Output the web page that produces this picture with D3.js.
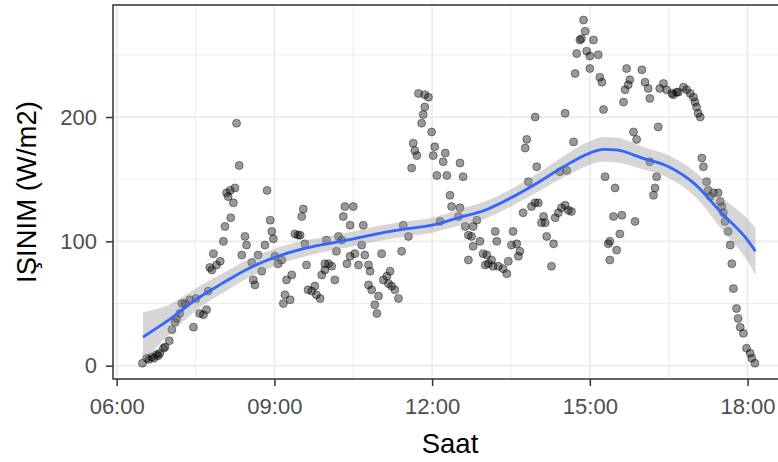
<!DOCTYPE html>
<html>
<head>
<meta charset="utf-8">
<script src="https://cdn.jsdelivr.net/npm/d3@7"></script>
<style>
  html, body { margin: 0; padding: 0; background: #fff; }
  svg { display: block; }
  text { font-family: "Liberation Sans", Arial, sans-serif; }
</style>
</head>
<body>
<svg id="chart" width="778" height="462"></svg>
<script>
// ---- Data (time as decimal hours, irradiance in W/m2) ----
const hours = [
  6.49,6.57,6.61,6.67,6.71,6.76,6.79,6.82,6.89,6.92,7.00,7.05,7.11,7.14,7.20,7.24,7.46,7.30,7.39,7.51,
  7.58,7.65,7.71,7.74,7.81,7.84,7.90,7.97,7.77,8.03,8.06,8.12,8.09,8.16,8.22,8.25,8.17,8.33,8.28,8.38,
  8.44,8.47,8.57,8.60,8.63,8.69,8.76,8.82,8.86,8.92,8.95,8.98,9.01,9.07,9.14,9.17,9.20,9.30,9.23,9.33,
  9.39,9.45,9.52,9.55,9.61,9.64,9.71,9.77,9.80,9.87,9.90,9.96,9.99,9.49,9.58,9.96,10.03,10.09,10.15,10.18,
  10.22,10.28,10.31,10.34,10.44,10.50,10.38,10.44,10.53,10.60,10.66,10.69,10.72,10.79,10.82,10.79,10.85,10.91,10.95,10.98,
  11.04,11.07,11.14,11.17,11.20,11.23,11.29,11.36,11.42,11.45,11.55,11.61,11.64,11.67,11.71,11.74,11.86,11.93,11.86,11.83,
  11.80,11.99,12.05,12.02,12.25,12.21,12.09,12.28,12.34,12.37,12.53,12.59,12.53,12.50,12.15,12.63,12.69,12.78,12.85,12.75,
  12.78,12.91,12.69,12.97,13.04,13.07,13.01,13.13,13.20,13.23,13.16,13.26,13.35,13.42,13.45,13.54,13.51,13.61,13.67,13.64,
  13.73,13.83,13.80,13.77,13.89,13.96,14.02,13.99,13.96,14.12,14.15,14.08,14.18,14.31,14.27,14.34,14.40,14.46,14.53,14.59,
  14.65,14.53,14.69,14.88,14.91,14.81,14.84,15.07,14.75,14.94,15.00,15.16,14.72,15.00,15.19,15.23,15.26,14.56,14.43,15.29,
  15.48,15.45,15.61,15.86,15.57,15.38,15.35,15.51,15.38,15.70,15.99,15.76,15.73,15.67,15.64,16.05,16.11,16.14,16.33,16.40,
  16.46,16.56,16.65,15.83,15.89,16.30,16.14,16.27,16.24,16.21,16.59,16.68,16.78,16.84,16.91,16.97,17.00,17.03,17.06,17.10,
  17.13,17.16,17.22,17.25,17.35,17.44,17.29,17.48,17.51,17.54,17.57,17.63,17.67,17.70,17.73,17.79,17.82,17.86,17.92,17.98,
  18.05,18.08,18.14
];
const irradiance = [
  2,6,5,7,6,9,8,10,14,15,20,29,35,38,42,50,31,50,53,54,
  42,41,45,60,77,90,81,84,79,100,112,136,139,141,131,143,119,161,195,89,
  104,97,83,69,65,89,76,97,141,117,108,102,88,82,85,50,57,53,69,73,
  106,105,120,126,81,61,60,64,57,54,73,82,101,105,98,77,82,80,69,92,
  104,101,120,128,113,128,82,88,90,81,97,113,89,81,76,65,61,49,42,56,
  90,69,72,66,76,64,61,54,92,113,104,159,179,173,169,219,218,216,208,202,
  195,188,176,169,171,164,153,153,137,128,163,152,127,120,116,112,105,112,117,104,
  96,100,85,90,89,82,81,85,108,100,80,80,78,74,84,108,97,98,92,88,
  123,148,182,175,128,131,131,160,200,120,115,115,104,98,80,119,123,127,129,125,
  124,203,180,278,269,262,263,262,251,253,249,250,235,239,232,228,206,157,156,152,
  143,120,121,116,106,100,98,93,85,239,238,230,226,222,212,228,223,215,223,227,
  222,219,220,188,182,192,164,152,143,137,218,220,224,222,219,216,212,208,203,200,
  167,160,148,141,139,139,136,132,128,123,116,108,97,82,62,46,38,31,26,14,
  10,6,2
];

// loess fit (fit and half-width of the confidence band)
const smoothHours = [6.5, 7.0, 7.5, 8.0, 8.5, 9.0, 9.5, 10.0, 10.5, 11.0, 11.5, 12.0, 12.5, 13.0, 13.5, 14.0, 14.5, 15.0, 15.25, 15.5, 16.0, 16.5, 17.0, 17.5, 18.0, 18.15];
const smoothFit   = [23, 37, 53, 66, 78, 87, 93.5, 98, 102, 106.5, 110, 113, 119, 125, 135, 147, 160, 171, 174, 173.5, 167, 160, 146, 123, 101, 92];
const smoothSE    = [20, 12, 9, 8, 7.5, 7, 6.5, 6, 6, 6, 6, 6, 6.5, 7, 7, 7.5, 8.5, 9.5, 10, 10, 9, 9, 10, 13, 17, 19];

const xTicks = [6, 9, 12, 15, 18];
const xMinor = [7.5, 10.5, 13.5, 16.5];
const yTicks = [0, 100, 200];
const yMinor = [50, 150, 250];
const xTitle = "Saat";
const yTitle = "IŞINIM (W/m2)";

// ---- Layout ----
const W = 778, H = 462;
const panel = { left: 113, top: 5, right: 787, bottom: 379 };

const svg = d3.select("#chart");

const x = d3.scaleLinear().domain([5.93, 18.75]).range([panel.left, panel.right]);
const y = d3.scaleLinear().domain([-10.7, 290.1]).range([panel.bottom, panel.top]);

const fmtTime = h => String(Math.floor(h)).padStart(2, "0") + ":" + String(Math.round((h % 1) * 60)).padStart(2, "0");

// clip
svg.append("defs").append("clipPath").attr("id", "clip")
  .append("rect")
  .attr("x", panel.left).attr("y", panel.top)
  .attr("width", panel.right - panel.left).attr("height", panel.bottom - panel.top);

// panel background
svg.append("rect")
  .attr("x", panel.left).attr("y", panel.top)
  .attr("width", panel.right - panel.left).attr("height", panel.bottom - panel.top)
  .attr("fill", "#fff");

const grid = svg.append("g").attr("clip-path", "url(#clip)");
// minor grid
grid.selectAll(".vminor").data(xMinor).join("line")
  .attr("x1", d => x(d)).attr("x2", d => x(d))
  .attr("y1", panel.top).attr("y2", panel.bottom)
  .attr("stroke", "#EBEBEB").attr("stroke-width", 0.9);
grid.selectAll(".hminor").data(yMinor).join("line")
  .attr("x1", panel.left).attr("x2", panel.right)
  .attr("y1", d => y(d)).attr("y2", d => y(d))
  .attr("stroke", "#EBEBEB").attr("stroke-width", 0.9);
// major grid
grid.selectAll(".vmajor").data(xTicks).join("line")
  .attr("x1", d => x(d)).attr("x2", d => x(d))
  .attr("y1", panel.top).attr("y2", panel.bottom)
  .attr("stroke", "#EBEBEB").attr("stroke-width", 1.7);
grid.selectAll(".hmajor").data(yTicks).join("line")
  .attr("x1", panel.left).attr("x2", panel.right)
  .attr("y1", d => y(d)).attr("y2", d => y(d))
  .attr("stroke", "#EBEBEB").attr("stroke-width", 1.7);

const plot = svg.append("g").attr("clip-path", "url(#clip)");

// points
const pts = hours.map((h, i) => ({ h, v: irradiance[i] }));
plot.append("g").selectAll("circle").data(pts).join("circle")
  .attr("cx", d => x(d.h)).attr("cy", d => y(d.v))
  .attr("r", 4)
  .attr("fill", "rgba(0,0,0,0.4)")
  .attr("stroke", "rgba(0,0,0,0.4)")
  .attr("stroke-width", 1);

// smooth ribbon and line
const sm = smoothHours.map((h, i) => ({ h, f: smoothFit[i], se: smoothSE[i] }));
plot.append("path").datum(sm)
  .attr("d", d3.area().curve(d3.curveMonotoneX)
    .x(d => x(d.h)).y0(d => y(d.f - d.se)).y1(d => y(d.f + d.se)))
  .attr("fill", "#999999").attr("fill-opacity", 0.4);
plot.append("path").datum(sm)
  .attr("d", d3.line().curve(d3.curveMonotoneX).x(d => x(d.h)).y(d => y(d.f)))
  .attr("fill", "none").attr("stroke", "#3366FF").attr("stroke-width", 2.8);

// panel border
svg.append("rect")
  .attr("x", panel.left).attr("y", panel.top)
  .attr("width", panel.right - panel.left).attr("height", panel.bottom - panel.top)
  .attr("fill", "none").attr("stroke", "#333333").attr("stroke-width", 1.5);

// axes
const xAxis = svg.append("g").attr("transform", `translate(0,${panel.bottom})`)
  .call(d3.axisBottom(x).tickValues(xTicks).tickFormat(fmtTime).tickSize(7).tickPadding(12));
const yAxis = svg.append("g").attr("transform", `translate(${panel.left},0)`)
  .call(d3.axisLeft(y).tickValues(yTicks).tickSize(7).tickPadding(9));
[xAxis, yAxis].forEach(a => {
  a.select(".domain").remove();
  a.selectAll(".tick line").attr("stroke", "#333333").attr("stroke-width", 1.5);
  a.selectAll(".tick text").attr("fill", "#4D4D4D").attr("font-size", 22)
    .attr("font-family", "'Liberation Sans', Arial, sans-serif");
});

// titles
svg.append("text")
  .attr("x", (panel.left + panel.right) / 2).attr("y", 453)
  .attr("text-anchor", "middle").attr("font-size", 27.5).attr("fill", "#000")
  .text(xTitle);
svg.append("text")
  .attr("transform", `translate(36,${(panel.top + panel.bottom) / 2}) rotate(-90)`)
  .attr("text-anchor", "middle").attr("font-size", 27.5).attr("fill", "#000")
  .text(yTitle);
</script>
</body>
</html>
